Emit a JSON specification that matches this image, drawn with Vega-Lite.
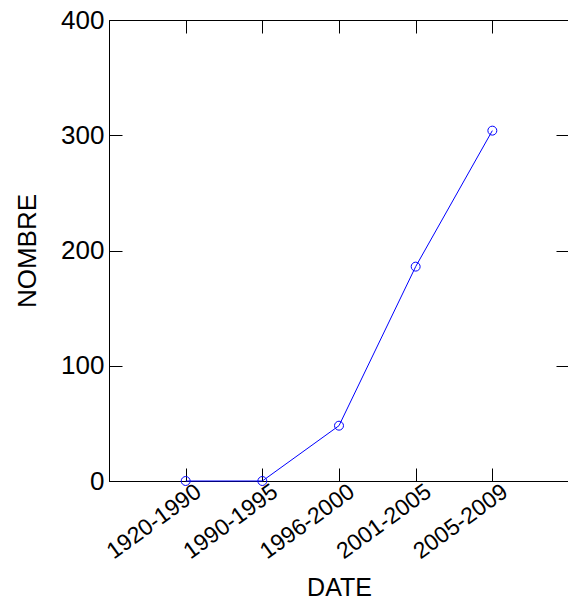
{
  "$schema": "https://vega.github.io/schema/vega-lite/v6.json",
  "width": 460,
  "height": 461,
  "autosize": "none",
  "padding": {"left": 109, "top": 20, "right": 0, "bottom": 120},
  "background": "white",
  "config": {
    "font": "Liberation Sans",
    "view": {"stroke": "black", "strokeWidth": 1},
    "axis": {
      "grid": false,
      "domainColor": "black",
      "tickColor": "black",
      "tickSize": -13,
      "labelColor": "black",
      "titleColor": "black",
      "labelFontSize": 24,
      "titleFontSize": 24,
      "titleFontWeight": "normal",
      "labelOverlap": false
    }
  },
  "data": {
    "values": [
      {"date": "1920-1990", "nombre": 0},
      {"date": "1990-1995", "nombre": 0},
      {"date": "1996-2000", "nombre": 48},
      {"date": "2001-2005", "nombre": 186},
      {"date": "2005-2009", "nombre": 304}
    ]
  },
  "layer": [
    {
      "mark": {
        "type": "line",
        "color": "#0000ff",
        "strokeWidth": 1,
        "point": {"filled": false, "color": "#0000ff", "size": 80, "strokeWidth": 1, "shape": "circle"}
      },
      "encoding": {
        "x": {
          "field": "date", "type": "ordinal", "sort": null,
          "scale": {"type": "point", "padding": 1},
          "axis": {"orient": "bottom", "title": "DATE", "labelAngle": -36, "labelFontSize": 23, "labelPadding": 12, "labelOffset": 6, "titlePadding": 12, "titleFontSize": 25}
        },
        "y": {
          "field": "nombre", "type": "quantitative",
          "scale": {"domain": [0, 400]},
          "axis": {"orient": "left", "title": "NOMBRE", "values": [0, 100, 200, 300, 400], "labelPadding": 18, "titlePadding": 20, "labelFontSize": 26, "titleFontSize": 26}
        }
      }
    },
    {
      "mark": {"type": "point", "opacity": 0},
      "encoding": {
        "x": {
          "field": "date", "type": "ordinal", "sort": null,
          "axis": {"orient": "top", "title": null, "labels": false, "domain": false}
        },
        "y": {
          "field": "nombre", "type": "quantitative",
          "axis": {"orient": "right", "title": null, "labels": false, "domain": false, "values": [0, 100, 200, 300, 400]}
        }
      }
    }
  ]
}
